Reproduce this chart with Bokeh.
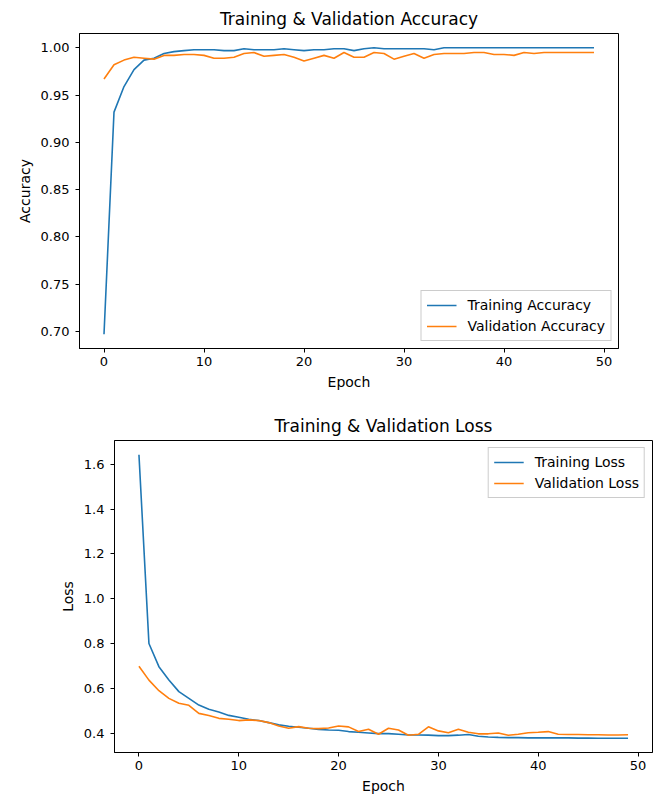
from bokeh.plotting import figure
from bokeh.layouts import column, row
from bokeh.models import Range1d, FixedTicker, Legend, LegendItem, PrintfTickFormatter
from bokeh.embed import file_html
from bokeh.resources import INLINE

epochs = list(range(50))

train_acc = [0.697, 0.932, 0.959, 0.977, 0.987, 0.989, 0.994, 0.996, 0.997, 0.998,
             0.998, 0.998, 0.997, 0.997, 0.999, 0.998, 0.998, 0.998, 0.999, 0.998,
             0.997, 0.998, 0.998, 0.999, 0.999, 0.997, 0.999, 1.000, 0.999, 0.999,
             0.999, 0.999, 0.999, 0.998, 1.000, 1.000, 1.000, 1.000, 1.000, 1.000,
             1.000, 1.000, 1.000, 1.000, 1.000, 1.000, 1.000, 1.000, 1.000, 1.000]
val_acc = [0.967, 0.982, 0.987, 0.990, 0.989, 0.988, 0.992, 0.992, 0.993, 0.993,
           0.992, 0.989, 0.989, 0.990, 0.994, 0.995, 0.991, 0.992, 0.993, 0.990,
           0.986, 0.989, 0.992, 0.989, 0.995, 0.990, 0.990, 0.995, 0.994, 0.988,
           0.991, 0.994, 0.989, 0.993, 0.994, 0.994, 0.994, 0.995, 0.995, 0.993,
           0.993, 0.992, 0.995, 0.994, 0.995, 0.995, 0.995, 0.995, 0.995, 0.995]
train_loss = [1.642, 0.801, 0.698, 0.639, 0.587, 0.557, 0.527, 0.508, 0.496, 0.481,
              0.473, 0.464, 0.458, 0.449, 0.439, 0.433, 0.428, 0.424, 0.419, 0.416,
              0.415, 0.409, 0.406, 0.403, 0.400, 0.400, 0.397, 0.394, 0.394, 0.393,
              0.391, 0.391, 0.393, 0.396, 0.388, 0.385, 0.383, 0.382, 0.382, 0.381,
              0.381, 0.381, 0.381, 0.381, 0.380, 0.380, 0.379, 0.379, 0.379, 0.379]
val_loss = [0.700, 0.638, 0.591, 0.557, 0.535, 0.526, 0.490, 0.481, 0.468, 0.464,
            0.458, 0.461, 0.458, 0.449, 0.434, 0.424, 0.431, 0.424, 0.422, 0.425,
            0.434, 0.430, 0.409, 0.419, 0.397, 0.424, 0.416, 0.393, 0.397, 0.430,
            0.412, 0.404, 0.419, 0.406, 0.399, 0.399, 0.403, 0.393, 0.397, 0.404,
            0.406, 0.409, 0.397, 0.396, 0.396, 0.395, 0.395, 0.394, 0.394, 0.395]

acc_ticks = [0.70, 0.75, 0.80, 0.85, 0.90, 0.95, 1.00]
loss_ticks = [0.4, 0.6, 0.8, 1.0, 1.2, 1.4, 1.6]
epoch_ticks = [0, 10, 20, 30, 40, 50]

BLUE = "#1f77b4"
ORANGE = "#ff7f0e"
FONT = "DejaVu Sans"


def pad_range(vals, frac=0.05):
    lo, hi = min(vals), max(vals)
    m = (hi - lo) * frac
    return lo - m, hi + m


def make_fig(title, ylabel, y1, y2, n1, n2, yticks, yfmt, loc, fw, fh, bl, br, bt, bb):
    xlo, xhi = pad_range(epochs)
    ylo, yhi = pad_range(y1 + y2)
    p = figure(width=fw + bl + br, height=fh + bt + bb, output_backend="svg", toolbar_location=None,
               x_range=Range1d(xlo, xhi), y_range=Range1d(ylo, yhi),
               min_border_left=bl, min_border_right=br, min_border_top=bt, min_border_bottom=bb,
               title=title)
    p.title.align = "center"
    p.title.text_font = FONT
    p.title.text_font_size = "17px"
    p.title.text_font_style = "normal"
    p.title.text_color = "black"
    p.outline_line_color = "black"
    p.outline_line_alpha = 1
    p.outline_line_width = 1
    p.xgrid.visible = False
    p.ygrid.visible = False
    for ax in (p.xaxis[0], p.yaxis[0]):
        ax.axis_label_text_font = FONT
        ax.axis_label_text_font_size = "14px"
        ax.axis_label_text_font_style = "normal"
        ax.axis_label_text_color = "black"
        ax.major_label_text_font = FONT
        ax.major_label_text_font_size = "13px"
        ax.major_label_text_color = "black"
        ax.minor_tick_line_color = None
        ax.major_tick_in = 0
        ax.major_tick_out = 4
        ax.major_tick_line_color = "black"
        ax.axis_line_color = "black"
        ax.axis_label_standoff = 5
    p.xaxis[0].major_label_standoff = 4
    p.yaxis[0].major_label_standoff = 6
    p.xaxis[0].ticker = FixedTicker(ticks=epoch_ticks)
    p.xaxis[0].axis_label = "Epoch"
    p.yaxis[0].ticker = FixedTicker(ticks=yticks)
    p.yaxis[0].formatter = PrintfTickFormatter(format=yfmt)
    p.yaxis[0].axis_label = ylabel
    r1 = p.line(epochs, y1, line_color=BLUE, line_width=1.6)
    r2 = p.line(epochs, y2, line_color=ORANGE, line_width=1.6)
    leg = Legend(items=[LegendItem(label=n1, renderers=[r1]), LegendItem(label=n2, renderers=[r2])],
                 location=loc)
    leg.label_text_font = FONT
    leg.label_text_font_size = "14px"
    leg.label_text_color = "black"
    leg.border_line_color = "#cccccc"
    leg.border_line_alpha = 1
    leg.background_fill_alpha = 0.8
    leg.padding = 5
    leg.spacing = 3
    leg.margin = 7
    leg.glyph_width = 30
    leg.glyph_height = 18
    leg.label_height = 18
    leg.label_standoff = 11
    p.add_layout(leg, "center")
    return p


p1 = make_fig("Training & Validation Accuracy", "Accuracy", train_acc, val_acc,
              "Training Accuracy", "Validation Accuracy", acc_ticks, "%.2f", "bottom_right",
              539, 315, 79, 43, 33, 51)
p2 = make_fig("Training & Validation Loss", "Loss", train_loss, val_loss,
              "Training Loss", "Validation Loss", loss_ticks, "%.1f", "top_right",
              538, 312, 114, 9, 41, 46)

layout = column(row(p1), row(p2), spacing=0)
open("out.html", "w").write(file_html(layout, INLINE))
